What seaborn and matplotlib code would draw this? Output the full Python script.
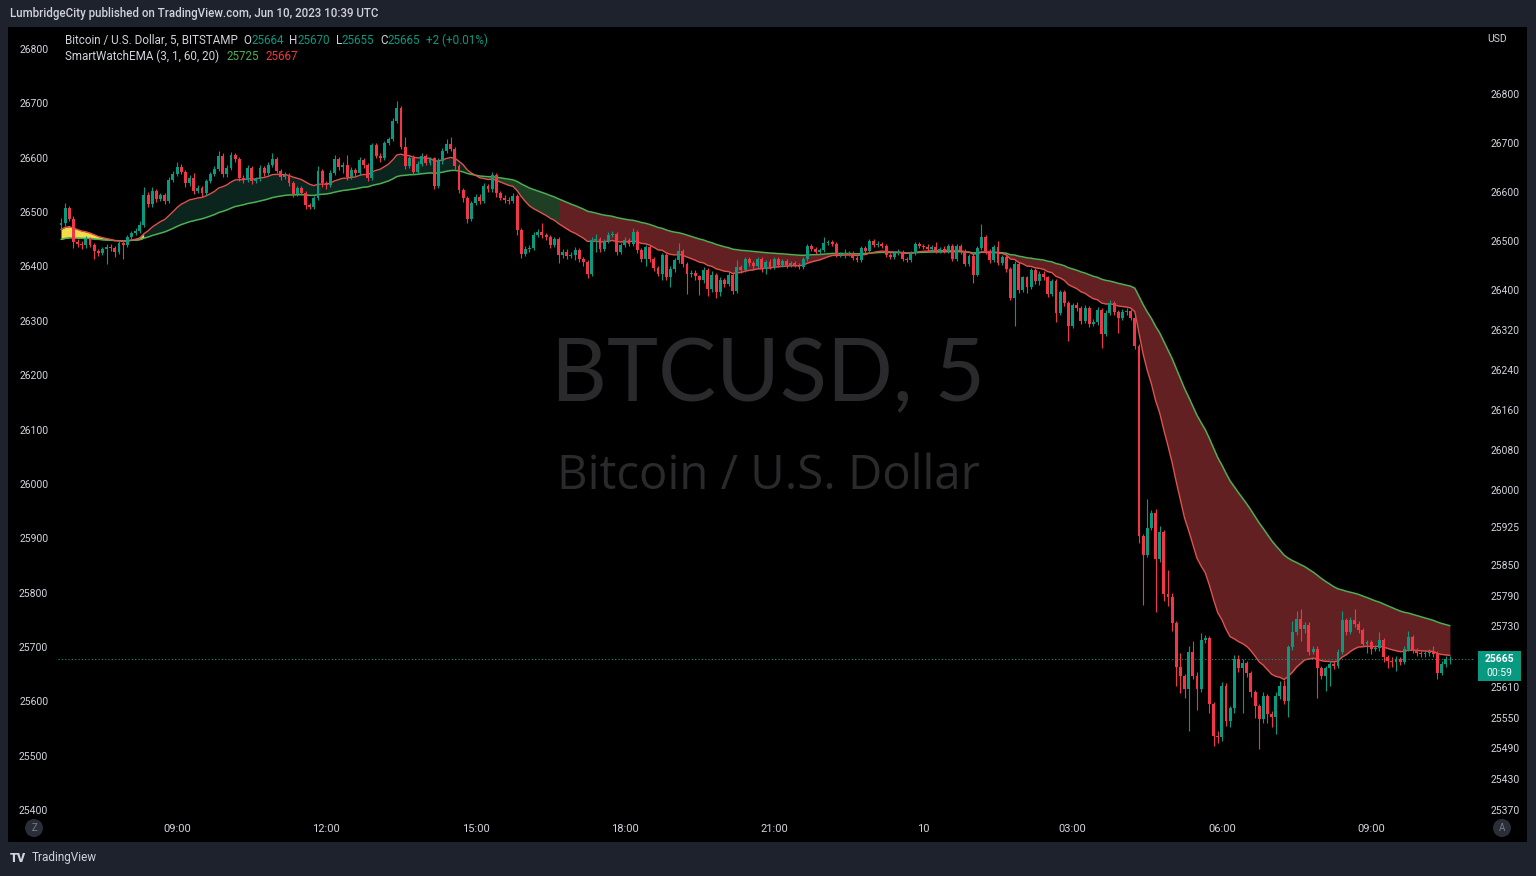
import numpy as np
import pandas as pd
import matplotlib
matplotlib.use("Agg")
import matplotlib.pyplot as plt
import seaborn as sns
from matplotlib.patches import Rectangle, Circle
from matplotlib.ticker import NullLocator

# ---------------- data (BTCUSD 5-min, Bitstamp) ----------------
first_bar = "2023-06-09 06:40"
open0 = 26532
closes = [
    26536, 26568, 26544, 26498, 26494, 26492, 26504, 26492, 26480, 26476,
    26484, 26488, 26486, 26478, 26496, 26492, 26508, 26516, 26520, 26532,
    26594, 26576, 26602, 26586, 26594, 26582, 26624, 26636, 26650, 26640,
    26618, 26628, 26602, 26608, 26598, 26622, 26636, 26646, 26674, 26636,
    26648, 26676, 26666, 26628, 26624, 26648, 26622, 26626, 26648, 26638,
    26654, 26666, 26642, 26630, 26634, 26618, 26596, 26608, 26598, 26574,
    26570, 26588, 26642, 26618, 26614, 26638, 26666, 26650, 26654, 26630,
    26644, 26638, 26664, 26654, 26628, 26696, 26674, 26668, 26700, 26708,
    26744, 26772, 26692, 26652, 26668, 26640, 26656, 26674, 26658, 26668,
    26612, 26662, 26684, 26698, 26688, 26652, 26604, 26588, 26544, 26578,
    26590, 26582, 26612, 26606, 26634, 26598, 26588, 26584, 26582, 26592,
    26522, 26474, 26484, 26486, 26512, 26518, 26512, 26508, 26492, 26504,
    26472, 26478, 26470, 26472, 26482, 26464, 26458, 26434, 26502, 26504,
    26484, 26500, 26512, 26514, 26478, 26492, 26502, 26494, 26518, 26482,
    26464, 26488, 26464, 26446, 26434, 26472, 26426, 26444, 26462, 26480,
    26454, 26434, 26436, 26428, 26420, 26442, 26402, 26432, 26396, 26420,
    26412, 26432, 26398, 26448, 26442, 26464, 26456, 26450, 26464, 26444,
    26458, 26448, 26464, 26452, 26460, 26452, 26456, 26452, 26448, 26464,
    26490, 26484, 26478, 26482, 26496, 26498, 26494, 26472, 26474, 26474,
    26476, 26466, 26462, 26486, 26480, 26500, 26492, 26494, 26490, 26472,
    26468, 26476, 26478, 26464, 26462, 26476, 26494, 26490, 26488, 26484,
    26488, 26480, 26484, 26480, 26490, 26464, 26490, 26480, 26454, 26470,
    26432, 26486, 26508, 26480, 26462, 26488, 26456, 26468, 26444, 26384,
    26454, 26400, 26426, 26406, 26442, 26418, 26434, 26426, 26392, 26418,
    26354, 26396, 26374, 26328, 26370, 26364, 26338, 26364, 26332, 26336,
    26360, 26312, 26354, 26374, 26356, 26344, 26356, 26358, 26344, 26288,
    25908, 25870, 25924, 25954, 25862, 25916, 25794, 25788, 25736, 25650,
    25632, 25606, 25678, 25632, 25606, 25702, 25706, 25576, 25514, 25512,
    25612, 25544, 25568, 25664, 25648, 25658, 25638, 25600, 25572, 25548,
    25592, 25558, 25552, 25592, 25612, 25582, 25688, 25718, 25744, 25724,
    25732, 25678, 25684, 25648, 25632, 25648, 25656, 25652, 25678, 25742,
    25718, 25742, 25734, 25722, 25694, 25698, 25684, 25686, 25702, 25668,
    25662, 25660, 25664, 25660, 25684, 25708, 25682, 25676, 25674, 25676,
    25678, 25674, 25638, 25656, 25664, 25665,
]
highs = [
    26546, 26578, 26572, 26550, 26504, 26500, 26510, 26508, 26496, 26484,
    26488, 26494, 26494, 26490, 26500, 26502, 26512, 26520, 26526, 26540,
    26610, 26600, 26610, 26606, 26598, 26598, 26630, 26642, 26660, 26656,
    26644, 26634, 26638, 26614, 26612, 26626, 26640, 26652, 26684, 26680,
    26654, 26682, 26680, 26670, 26634, 26654, 26652, 26630, 26654, 26652,
    26660, 26680, 26670, 26646, 26640, 26638, 26622, 26612, 26612, 26602,
    26578, 26592, 26652, 26646, 26622, 26644, 26676, 26670, 26660, 26676,
    26650, 26648, 26672, 26668, 26658, 26700, 26700, 26680, 26704, 26712,
    26750, 26786, 26776, 26712, 26674, 26676, 26662, 26680, 26678, 26672,
    26672, 26668, 26690, 26708, 26712, 26692, 26656, 26608, 26592, 26582,
    26596, 26596, 26618, 26616, 26640, 26638, 26602, 26594, 26590, 26598,
    26596, 26526, 26490, 26492, 26518, 26524, 26536, 26516, 26512, 26508,
    26508, 26484, 26484, 26478, 26488, 26486, 26468, 26462, 26508, 26514,
    26508, 26504, 26518, 26520, 26518, 26496, 26508, 26506, 26526, 26522,
    26486, 26492, 26492, 26468, 26450, 26476, 26476, 26450, 26466, 26496,
    26484, 26458, 26442, 26442, 26432, 26448, 26446, 26440, 26436, 26426,
    26424, 26440, 26436, 26462, 26452, 26468, 26468, 26460, 26468, 26468,
    26462, 26464, 26468, 26468, 26464, 26464, 26460, 26460, 26456, 26468,
    26494, 26494, 26488, 26486, 26508, 26502, 26502, 26498, 26478, 26484,
    26480, 26480, 26470, 26490, 26490, 26504, 26504, 26500, 26498, 26494,
    26476, 26480, 26484, 26482, 26468, 26480, 26498, 26498, 26494, 26494,
    26492, 26498, 26488, 26490, 26494, 26494, 26494, 26494, 26484, 26474,
    26474, 26490, 26534, 26512, 26484, 26492, 26500, 26472, 26472, 26448,
    26460, 26458, 26430, 26430, 26446, 26446, 26440, 26440, 26430, 26422,
    26422, 26400, 26400, 26378, 26374, 26376, 26368, 26370, 26368, 26342,
    26366, 26364, 26360, 26380, 26378, 26360, 26362, 26364, 26362, 26348,
    26292, 25912, 25982, 25960, 25962, 25928, 25920, 25840, 25796, 25740,
    25676, 25636, 25690, 25700, 25640, 25716, 25712, 25710, 25580, 25524,
    25620, 25618, 25572, 25672, 25672, 25664, 25662, 25642, 25604, 25576,
    25600, 25596, 25562, 25600, 25622, 25624, 25692, 25740, 25760, 25764,
    25738, 25738, 25690, 25690, 25652, 25652, 25662, 25660, 25684, 25760,
    25746, 25748, 25764, 25740, 25726, 25702, 25702, 25692, 25718, 25706,
    25672, 25668, 25670, 25668, 25690, 25720, 25712, 25686, 25680, 25682,
    25684, 25690, 25680, 25662, 25670, 25670,
]
lows = [
    26524, 26530, 26540, 26486, 26488, 26484, 26486, 26488, 26464, 26470,
    26472, 26454, 26480, 26468, 26474, 26464, 26488, 26504, 26512, 26516,
    26528, 26570, 26570, 26580, 26582, 26576, 26578, 26620, 26632, 26636,
    26610, 26612, 26596, 26598, 26590, 26594, 26618, 26632, 26642, 26630,
    26630, 26644, 26660, 26622, 26618, 26620, 26616, 26618, 26622, 26632,
    26634, 26650, 26638, 26624, 26626, 26612, 26590, 26592, 26594, 26566,
    26564, 26566, 26584, 26610, 26606, 26610, 26634, 26644, 26638, 26624,
    26626, 26632, 26634, 26648, 26622, 26624, 26668, 26660, 26664, 26696,
    26704, 26740, 26688, 26646, 26648, 26636, 26636, 26652, 26654, 26654,
    26606, 26608, 26656, 26680, 26684, 26646, 26598, 26580, 26536, 26540,
    26574, 26576, 26578, 26600, 26600, 26590, 26584, 26578, 26576, 26578,
    26512, 26466, 26470, 26478, 26482, 26508, 26506, 26502, 26486, 26488,
    26456, 26466, 26464, 26466, 26462, 26458, 26450, 26424, 26430, 26478,
    26478, 26480, 26496, 26508, 26472, 26474, 26488, 26490, 26490, 26476,
    26458, 26450, 26458, 26440, 26428, 26420, 26420, 26406, 26438, 26456,
    26448, 26392, 26426, 26420, 26390, 26414, 26388, 26396, 26384, 26388,
    26406, 26408, 26392, 26394, 26436, 26438, 26450, 26444, 26446, 26438,
    26434, 26444, 26444, 26448, 26448, 26446, 26448, 26448, 26444, 26444,
    26460, 26480, 26474, 26474, 26478, 26492, 26490, 26468, 26468, 26466,
    26470, 26462, 26458, 26458, 26476, 26476, 26488, 26488, 26486, 26468,
    26464, 26464, 26472, 26460, 26458, 26458, 26472, 26486, 26484, 26480,
    26480, 26476, 26476, 26476, 26476, 26460, 26460, 26474, 26450, 26450,
    26414, 26428, 26482, 26474, 26456, 26458, 26452, 26452, 26438, 26380,
    26328, 26394, 26396, 26394, 26402, 26412, 26410, 26420, 26386, 26388,
    26336, 26350, 26368, 26298, 26324, 26358, 26332, 26334, 26326, 26328,
    26330, 26284, 26308, 26350, 26350, 26314, 26340, 26350, 26340, 26282,
    25894, 25772, 25866, 25920, 25758, 25856, 25780, 25770, 25720, 25612,
    25598, 25588, 25524, 25626, 25564, 25600, 25696, 25560, 25494, 25500,
    25504, 25534, 25532, 25560, 25640, 25560, 25630, 25590, 25550, 25488,
    25540, 25540, 25532, 25518, 25586, 25576, 25552, 25682, 25712, 25700,
    25716, 25672, 25674, 25588, 25626, 25602, 25612, 25646, 25648, 25674,
    25712, 25714, 25728, 25716, 25690, 25676, 25674, 25680, 25680, 25660,
    25648, 25650, 25642, 25654, 25656, 25680, 25676, 25670, 25668, 25668,
    25670, 25668, 25626, 25634, 25650, 25655,
]
# SmartWatchEMA (3, 1, 60, 20): EMA values just before the first bar shown
ema_fast_seed = 26522
ema_slow_seed = 26502
ema_fast_len = 20
ema_slow_len = 60
# indicator state segments (bar index where each state starts)
state_starts = [0, 20, 103, 120]
state_names = ["neutral", "bull", "fade", "bear"]

tick_times = ["2023-06-09 09:00", "2023-06-09 12:00", "2023-06-09 15:00",
              "2023-06-09 18:00", "2023-06-09 21:00", "2023-06-10 00:00",
              "2023-06-10 03:00", "2023-06-10 06:00", "2023-06-10 09:00"]
tick_labels = ["09:00", "12:00", "15:00", "18:00", "21:00", "10",
               "03:00", "06:00", "09:00"]
right_ticks = [26800, 26700, 26600, 26500, 26400, 26320, 26240, 26160, 26080,
               26000, 25925, 25850, 25790, 25730, 25610, 25550, 25490, 25430, 25370]
left_ticks = [25400, 25500, 25600, 25700, 25800, 25900, 26000, 26100,
              26200, 26300, 26400, 26500, 26600, 26700, 26800]
legend_ohlc = [("O", "25664"), ("H", "25670"), ("L", "25655"), ("C", "25665")]
legend_change = "+2 (+0.01%)"
legend_ema = ["25725", "25667"]
countdown = "00:59"

# ---------------- prep ----------------
assert len(closes) == len(highs) == len(lows)
n = len(closes)
idx = np.arange(n)
c = np.array(closes, float)
o = np.r_[open0, c[:-1]]
h = np.maximum(np.array(highs, float), np.maximum(o, c))
l = np.minimum(np.array(lows, float), np.minimum(o, c))

fast = pd.Series([ema_fast_seed] + closes, dtype=float).ewm(span=ema_fast_len, adjust=False).mean().to_numpy()[1:]
slow = pd.Series([ema_slow_seed] + closes, dtype=float).ewm(span=ema_slow_len, adjust=False).mean().to_numpy()[1:]

start = pd.Timestamp(first_bar)
tick_pos = [int((pd.Timestamp(t) - start) / pd.Timedelta("5min")) for t in tick_times]

# ---------------- style ----------------
sns.set_theme(style="dark")
plt.rcParams["font.family"] = ["Roboto", "DejaVu Sans"]

W, H = 1536, 876
def fx(px): return px / W
def fy(py): return 1 - py / H

GREEN = "#089981"
RED = "#f23645"
TXT = "#d1d4dc"
FRAME = "#1e222d"
fill_colors = {"neutral": "#f2dc4a", "bull": "#0b241e", "fade": "#1f3f24", "bear": "#632022"}

fig = plt.figure(figsize=(W / 100, H / 100), dpi=100, facecolor=FRAME)
fig.patches.append(Rectangle((fx(8), fy(842)), 1519 / W, 815 / H, transform=fig.transFigure,
                             facecolor="black", edgecolor="none", zorder=-5))

ax = fig.add_axes([fx(58), fy(818), 1417 / W, 791 / H])
ax2 = ax.twinx()
ax.set_facecolor("black")
ax.set_yscale("log")
ax.set_ylim(25354.3, 26937.9)
ax.set_xlim(-0.72, 341.05)
ax.grid(False)
ax2.grid(False)
for a_ in (ax, ax2):
    for s in a_.spines.values():
        s.set_visible(False)

# watermark (behind everything in the pane)
ax.text(fx(768), fy(377), "BTCUSD, 5", transform=fig.transFigure, family=["Lato", "DejaVu Sans"],
        fontsize=62.5, color="#2a2a2c", ha="center", va="center", zorder=0.5)
ax.text(fx(768), fy(476), "Bitcoin / U.S. Dollar", transform=fig.transFigure,
        family=["Open Sans", "DejaVu Sans"], fontsize=34, color="#2a2a2c",
        ha="center", va="center", zorder=0.5)

# indicator fill
bounds = state_starts + [n - 1]
for k, name in enumerate(state_names):
    a, b = bounds[k], bounds[k + 1]
    sl = slice(a, b + 1)
    ax.fill_between(idx[sl], fast[sl], slow[sl], color=fill_colors[name], lw=0, zorder=1)

sns.lineplot(x=idx, y=slow, ax=ax, color="#4caf50", linewidth=1.1, sort=False, estimator=None, zorder=2)
sns.lineplot(x=idx, y=fast, ax=ax, color="#e0534d", linewidth=1.0, sort=False, estimator=None, zorder=2)

# candles
up = c >= o
cols = np.where(up, GREEN, RED)
ax.vlines(idx, l, h, colors=cols, lw=0.8, zorder=3)
ax.bar(idx, np.maximum(np.abs(c - o), 1.5), bottom=np.minimum(o, c), width=0.7,
       color=cols, lw=0, zorder=4)

# last price dotted line
ax.axhline(c[-1], color=GREEN, ls=(0, (1, 2)), lw=0.8, zorder=2)

# right (price) axis
ax.yaxis.tick_right()
ax.yaxis.set_minor_locator(NullLocator())
ax.set_yticks(right_ticks)
ax.set_yticklabels([str(t) for t in right_ticks])
ax.tick_params(axis="y", which="both", left=False, labelleft=False, right=False, labelright=True,
               length=0, pad=11, labelsize=7.5, labelcolor=TXT)
ax.set_xticks(tick_pos)
ax.set_xticklabels(tick_labels)
ax.tick_params(axis="x", length=0, pad=4, labelsize=8, labelcolor=TXT)
ax.set_xlabel("")
ax.set_ylabel("")

# left axis
ax2.set_ylim(25385.3, 26840.5)
ax2.yaxis.set_minor_locator(NullLocator())
ax2.set_yticks(left_ticks)
ax2.set_yticklabels([str(t) for t in left_ticks])
ax2.tick_params(axis="y", which="both", left=False, labelleft=True, right=False, labelright=False,
                length=0, pad=7, labelsize=7.5, labelcolor=TXT)
ax2.set_ylabel("")

# header
fig.text(fx(10), fy(14), "LumbridgeCity published on TradingView.com, Jun 10, 2023 10:39 UTC",
         color=TXT, fontsize=8.3, ha="left", va="center", fontweight="medium")

# legend lines
def after(prev, s, color, gap):
    return ax2.annotate(s, xy=(1, 0.5), xycoords=prev, xytext=(gap, 0), textcoords="offset points",
                        color=color, fontsize=8.4, ha="left", va="center", annotation_clip=False)

t = fig.text(fx(65), fy(40), "Bitcoin / U.S. Dollar, 5, BITSTAMP", color=TXT, fontsize=8.4,
             ha="left", va="center")
for lab, val in legend_ohlc:
    t = after(t, lab, TXT, 4)
    t = after(t, val, GREEN, 0)
t = after(t, legend_change, GREEN, 4)

t = fig.text(fx(65), fy(56), "SmartWatchEMA (3, 1, 60, 20)", color=TXT, fontsize=8.4,
             ha="left", va="center")
t = after(t, legend_ema[0], "#4caf50", 5)
t = after(t, legend_ema[1], RED, 5)

# USD label
fig.text(fx(1497), fy(39), "USD", color=TXT, fontsize=7.5, ha="center", va="center")

# current price tag
fig.patches.append(Rectangle((fx(1478), fy(681)), 43 / W, 30 / H, transform=fig.transFigure,
                             facecolor=GREEN, edgecolor="none", zorder=5))
fig.text(fx(1499.5), fy(659), f"{c[-1]:.0f}", color="white", fontsize=7.5, ha="center",
         va="center", fontweight="bold", zorder=6)
fig.text(fx(1499.5), fy(673), countdown, color="white", fontsize=7.5, ha="center",
         va="center", zorder=6)

# Z / A badges
for px, letter in [(34, "Z"), (1502, "A")]:
    fig.patches.append(Circle((px / 100, (H - 828) / 100), 0.09, transform=fig.dpi_scale_trans,
                              facecolor="#2a2e39", edgecolor="none", zorder=5))
    fig.text(fx(px), fy(828), letter, color="#787b86", fontsize=7, ha="center", va="center", zorder=6)

# footer logo
fig.text(fx(10), fy(858), "TV", color=TXT, fontsize=9, fontweight="heavy", ha="left", va="center")
fig.text(fx(32), fy(858), "TradingView", color=TXT, fontsize=8.5, ha="left", va="center")

fig.savefig("out.png", dpi=100, facecolor=FRAME)
